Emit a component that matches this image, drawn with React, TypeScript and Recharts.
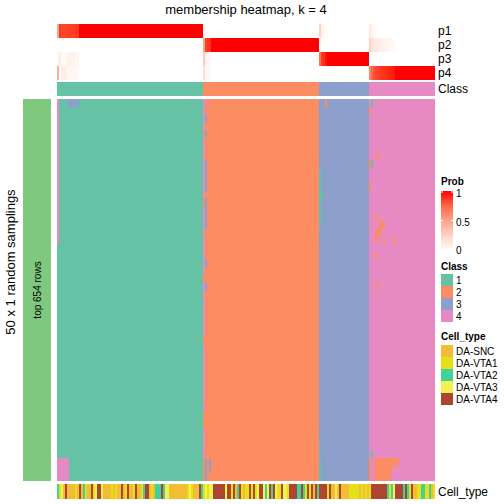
import React from 'react';
import { BarChart, Bar, XAxis, YAxis } from 'recharts';

const CLASS_NAMES = ['1', '2', '3', '4'];
const CLASS_COLORS = ['#66c2a5', '#fc8d62', '#8da0cb', '#e78ac3'];
// samples per class block, left to right
const CLASS_COUNTS = [73, 58, 25, 33];

const CELL_TYPES = ['DA-SNC', 'DA-VTA1', 'DA-VTA2', 'DA-VTA3', 'DA-VTA4'];
const CELL_TYPE_CODES = ['S', '1', '2', '3', '4'];
const CELL_TYPE_COLORS = ['#f1bd35', '#e6e018', '#40d29a', '#f2f250', '#ae4532'];

// cell type of each sample, one list of chunks per class block
const CELL_TYPE_BLOCKS = [
  ['213S4SSSS1', 'S4S21SS413', '443SSSS1S1', 'SS4S14SS14', 'SS1244S1S2', '224233SSSS', 'SSSSS131SS', 'S42'],
  ['1313344444', '434414S241', 'S114141344', '3234243114', '3314444224', '21414S42'],
  ['444414SS3S', '4SSSS11111', 'S1S1S'],
  ['1444444442', '1234444242', '14SS112211', '2S1'],
];

const PROB_ROWS = ['p1', 'p2', 'p3', 'p4'];
// samples whose membership is not a clean 1/0: [sample, p1, p2, p3, p4]
const PROB_OVERRIDES = [
  [0, 0.5, 0, 0.05, 0.45],
  [1, 0.9, 0, 0.1, 0],
  [2, 0.86, 0, 0.03, 0.11],
  [3, 0.86, 0, 0.03, 0.11],
  [4, 0.88, 0, 0.03, 0.09],
  [5, 0.88, 0, 0.08, 0.04],
  [6, 0.88, 0, 0.08, 0.04],
  [7, 0.88, 0, 0.08, 0.04],
  [8, 0.88, 0, 0.08, 0.04],
  [9, 0.9, 0, 0.06, 0.04],
  [10, 0.9, 0, 0.06, 0.04],
  [73, 0.02, 0.5, 0.3, 0.18],
  [74, 0, 0.88, 0.08, 0.04],
  [75, 0, 0.9, 0.06, 0.04],
  [76, 0, 0.92, 0.05, 0.03],
  [131, 0.25, 0.03, 0.72, 0],
  [132, 0.08, 0.02, 0.9, 0],
  [133, 0.04, 0.02, 0.94, 0],
  [134, 0.02, 0, 0.98, 0],
  [156, 0.12, 0.25, 0, 0.63],
  [157, 0.06, 0.18, 0, 0.76],
  [158, 0.03, 0.15, 0, 0.82],
  [159, 0.02, 0.12, 0, 0.86],
  [160, 0, 0.12, 0, 0.88],
  [161, 0, 0.1, 0, 0.9],
  [162, 0, 0.09, 0, 0.91],
  [163, 0, 0.08, 0, 0.92],
  [164, 0, 0.07, 0, 0.93],
  [165, 0, 0.06, 0, 0.94],
  [166, 0, 0.05, 0, 0.95],
  [167, 0, 0.04, 0, 0.96],
  [168, 0, 0.03, 0, 0.97],
];

const N_ROWS = 50;
// main heatmap cells that differ from the sample's class: [rowFrom, rowTo, sampleFrom, sampleTo, class]
const MAIN_DEVIATIONS = [
  [0, 0, 5, 10, 2],
  [0, 18, 0, 0, 3],
  [47, 49, 0, 5, 3],
  [0, 3, 73, 73, 3],
  [5, 12, 73, 73, 3],
  [14, 22, 73, 73, 3],
  [24, 30, 73, 73, 3],
  [32, 40, 73, 73, 3],
  [43, 46, 73, 73, 3],
  [0, 0, 75, 75, 3],
  [2, 2, 74, 74, 2],
  [4, 4, 74, 74, 2],
  [8, 11, 74, 74, 2],
  [13, 16, 74, 74, 2],
  [21, 21, 74, 74, 2],
  [24, 24, 74, 74, 2],
  [47, 49, 74, 74, 2],
  [47, 48, 76, 76, 2],
  [9, 16, 131, 131, 0],
  [12, 12, 132, 132, 0],
  [0, 0, 134, 134, 1],
  [45, 45, 131, 131, 0],
  [47, 49, 131, 131, 0],
  [1, 1, 156, 156, 1],
  [8, 8, 156, 156, 1],
  [11, 11, 156, 156, 1],
  [0, 0, 157, 157, 0],
  [8, 8, 157, 157, 0],
  [7, 7, 160, 160, 1],
  [15, 15, 159, 159, 1],
  [16, 16, 161, 163, 1],
  [17, 17, 159, 161, 1],
  [18, 18, 159, 159, 1],
  [18, 18, 163, 163, 1],
  [18, 18, 168, 168, 1],
  [20, 20, 159, 159, 1],
  [24, 24, 160, 160, 1],
  [46, 46, 157, 157, 0],
  [47, 49, 156, 156, 1],
  [47, 47, 159, 170, 1],
  [48, 48, 159, 167, 1],
  [49, 49, 159, 166, 1],
];

const ROW_GROUP = 'top 654 rows';
const ROW_GROUP_COLOR = '#7fc97f';
const PROB_TICKS = ['1', '0.5', '0'];

const FONT = '"Liberation Sans", Arial, sans-serif';

// white -> red, roughly like the LAB ramp of the original
const probColor = (p: number) => {
  const g = Math.round(255 * Math.pow(1 - p, 0.65));
  const b = Math.round(255 * Math.pow(1 - p, 0.89));
  return `rgb(255,${g},${b})`;
};

const sampleClass: number[] = CLASS_COUNTS.flatMap((c, k) => Array(c).fill(k));
const N = sampleClass.length;
const sampleCellType: number[] = CELL_TYPE_BLOCKS.map((b) => b.join(''))
  .join('')
  .split('')
  .map((c) => CELL_TYPE_CODES.indexOf(c));

const probs: number[][] = sampleClass.map((k) => [0, 1, 2, 3].map((j) => (j === k ? 1 : 0)));
PROB_OVERRIDES.forEach(([i, ...p]) => {
  probs[i] = p;
});

const grid: number[][] = Array.from({ length: N_ROWS }, () => sampleClass.slice());
MAIN_DEVIATIONS.forEach(([r0, r1, s0, s1, k]) => {
  for (let r = r0; r <= r1; r++) for (let s = s0; s <= s1; s++) grid[r][s] = k;
});

const rowKeys = Array.from({ length: N_ROWS }, (_, r) => `r${r}`);
const mainData = sampleClass.map((_, i) => {
  const d: Record<string, number> = { id: i };
  rowKeys.forEach((k) => (d[k] = 1));
  return d;
});
const annoData = sampleClass.map((k, i) => ({
  id: i,
  p1: 1, p2: 1, p3: 1, p4: 1,
  cls: 1,
  ct: 1,
}));

const HM_LEFT = 57;
const HM_WIDTH = 378;

const cellShape = (fillOf: (i: number) => string) => (props: any) => {
  const { x, y, width, height, payload } = props;
  return <rect x={x} y={y} width={width} height={height} fill={fillOf(payload.id)} shapeRendering="crispEdges" />;
};

const Strip: React.FC<{ top: number; height: number; keys: string[]; fills: ((i: number) => string)[] ; data: any[] }> = ({ top, height, keys, fills, data }) => (
  <div style={{ position: 'absolute', left: HM_LEFT, top }}>
    <BarChart width={HM_WIDTH} height={height} data={data} margin={{ top: 0, right: 0, bottom: 0, left: 0 }} barCategoryGap={0} barGap={0}>
      <XAxis dataKey="id" hide />
      <YAxis type="number" domain={[0, keys.length]} hide />
      {keys.map((k, j) => (
        <Bar key={k} dataKey={k} stackId="s" isAnimationActive={false} shape={cellShape(fills[j])} />
      ))}
    </BarChart>
  </div>
);

const App: React.FC = () => {
  // stacks grow upward, so the bottom row goes first
  const probKeys = [...PROB_ROWS].reverse();
  const probFills = probKeys.map((k) => {
    const j = PROB_ROWS.indexOf(k);
    return (i: number) => probColor(probs[i][j]);
  });
  const mainKeys = [...rowKeys].reverse();
  const mainFills = mainKeys.map((k) => {
    const r = Number(k.slice(1));
    return (i: number) => CLASS_COLORS[grid[r][i]];
  });

  return (
    <div style={{ position: 'absolute', left: 0, top: 0, width: 504, height: 504, background: '#fff', fontFamily: FONT }}>
      <Strip top={24} height={56} keys={probKeys} fills={probFills} data={annoData} />
      <Strip top={82} height={14} keys={['cls']} fills={[(i) => CLASS_COLORS[sampleClass[i]]]} data={annoData} />
      <Strip top={99} height={382} keys={mainKeys} fills={mainFills} data={mainData} />
      <Strip top={484} height={15} keys={['ct']} fills={[(i) => CELL_TYPE_COLORS[sampleCellType[i]]]} data={annoData} />

      <div style={{ position: 'absolute', left: 23, top: 99 }}>
        <BarChart width={28} height={382} data={[{ name: ROW_GROUP, v: 1 }]} margin={{ top: 0, right: 0, bottom: 0, left: 0 }} barCategoryGap={0}>
          <XAxis dataKey="name" hide />
          <YAxis type="number" domain={[0, 1]} hide />
          <Bar dataKey="v" fill={ROW_GROUP_COLOR} isAnimationActive={false} />
        </BarChart>
      </div>

      <svg width={504} height={504} style={{ position: 'absolute', left: 0, top: 0, pointerEvents: 'none' }} fontFamily={FONT}>
        <text x={246} y={14} fontSize={13} textAnchor="middle">membership heatmap, k = 4</text>
        {PROB_ROWS.map((p, j) => (
          <text key={p} x={438} y={35 + j * 14} fontSize={12}>{p}</text>
        ))}
        <text x={438} y={93} fontSize={12}>Class</text>
        <text x={438} y={496} fontSize={12}>Cell_type</text>
        <text transform="translate(15,262) rotate(-90)" fontSize={13} textAnchor="middle">50 x 1 random samplings</text>
        <text transform="translate(41,290) rotate(-90)" fontSize={10} textAnchor="middle">{ROW_GROUP}</text>

        <defs>
          <linearGradient id="probGrad" x1="0" y1="0" x2="0" y2="1">
            <stop offset="0" stopColor={probColor(1)} />
            <stop offset="0.25" stopColor={probColor(0.75)} />
            <stop offset="0.5" stopColor={probColor(0.5)} />
            <stop offset="0.75" stopColor={probColor(0.25)} />
            <stop offset="1" stopColor={probColor(0)} />
          </linearGradient>
        </defs>
        <text x={441} y={185} fontSize={10} fontWeight="bold">Prob</text>
        <rect x={441} y={191} width={12} height={60} fill="url(#probGrad)" />
        {PROB_TICKS.map((t, j) => (
          <g key={t}>
            <line x1={441} x2={443} y1={192 + j * 28.5} y2={192 + j * 28.5} stroke="#fff" />
            <line x1={451} x2={453} y1={192 + j * 28.5} y2={192 + j * 28.5} stroke="#fff" />
            <text x={456} y={197 + j * 28.5} fontSize={10}>{t}</text>
          </g>
        ))}

        <text x={441} y={270} fontSize={10} fontWeight="bold">Class</text>
        {CLASS_NAMES.map((c, k) => (
          <g key={c}>
            <rect x={441} y={274 + k * 12} width={12} height={12} fill={CLASS_COLORS[k]} />
            <text x={456} y={284 + k * 12} fontSize={10}>{c}</text>
          </g>
        ))}

        <text x={441} y={340} fontSize={10} fontWeight="bold">Cell_type</text>
        {CELL_TYPES.map((c, k) => (
          <g key={c}>
            <rect x={441} y={345 + k * 12} width={12} height={12} fill={CELL_TYPE_COLORS[k]} />
            <text x={456} y={355 + k * 12} fontSize={10}>{c}</text>
          </g>
        ))}
      </svg>
    </div>
  );
};

export default App;
